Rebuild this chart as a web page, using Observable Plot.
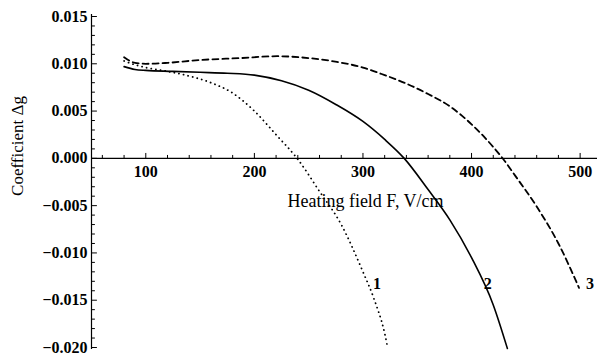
<!DOCTYPE html>
<html><head><meta charset="utf-8">
<script src="https://cdn.jsdelivr.net/npm/d3@7"></script>
<script src="https://cdn.jsdelivr.net/npm/@observablehq/plot@0.6"></script>
<style>body{margin:0;background:#fff}</style>
</head><body><div id="chart"></div>
<script>
// Curve 1 (dotted)
const F1 = [80, 90, 100, 120, 140, 160, 180, 200, 220, 240, 260, 280, 300, 310, 320, 323];
const G1 = [0.0103, 0.0099, 0.0096, 0.0092, 0.0087, 0.0080, 0.0069, 0.0050, 0.0025, -0.0001, -0.0035, -0.0070, -0.0120, -0.0148, -0.0185, -0.0201];
// Curve 2 (solid)
const F2 = [80, 90, 100, 125, 150, 175, 200, 225, 250, 275, 300, 320, 338, 360, 380, 400, 420, 433];
const G2 = [0.0097, 0.0094, 0.0093, 0.0092, 0.0091, 0.0090, 0.0088, 0.0082, 0.0072, 0.0057, 0.0039, 0.0020, 0.0000, -0.0033, -0.0065, -0.0105, -0.0155, -0.0201];
// Curve 3 (dashed)
const F3 = [80, 90, 100, 120, 150, 187, 221, 250, 276, 300, 320, 340, 360, 380, 400, 420, 430, 440, 460, 480, 499];
const G3 = [0.0107, 0.0101, 0.0100, 0.0101, 0.0104, 0.0106, 0.0108, 0.0106, 0.0102, 0.0096, 0.0088, 0.0079, 0.0068, 0.0055, 0.0036, 0.0012, -0.0002, -0.0018, -0.0051, -0.0090, -0.0137];

const curveNames = ["1", "2", "3"];
const labelF = [313, 415, 509];
const labelG = [-0.0133, -0.0133, -0.0133];

const xMajor = [100, 200, 300, 400, 500];
const xMinor = [60, 80, 120, 140, 160, 180, 220, 240, 260, 280, 320, 340, 360, 380, 420, 440, 460, 480];
const yMajor = [-0.020, -0.015, -0.010, -0.005, 0.000, 0.005, 0.010, 0.015];
const yMinor = [-0.019, -0.018, -0.017, -0.016, -0.014, -0.013, -0.012, -0.011, -0.009, -0.008, -0.007, -0.006,
  -0.004, -0.003, -0.002, -0.001, 0.001, 0.002, 0.003, 0.004, 0.006, 0.007, 0.008, 0.009, 0.011, 0.012, 0.013, 0.014];

const xTitle = "Heating field F, V/cm";
const yTitle = "Coefficient \u0394g";

const toRows = (F, G) => F.map((f, i) => ({F: f, g: G[i]}));
const c1 = toRows(F1, G1), c2 = toRows(F2, G2), c3 = toRows(F3, G3);
const labels = curveNames.map((t, i) => ({t, F: labelF[i], g: labelG[i]}));

const serif = "'Liberation Serif', 'Times New Roman', serif";
const fmt = d3.format(".3f");
const tickShape = {draw(ctx, l) { ctx.moveTo(0, 0); ctx.lineTo(0, -l); }};

const chart = Plot.plot({
  width: 599, height: 361,
  marginLeft: 91, marginRight: 2, marginTop: 16, marginBottom: 14,
  style: {fontFamily: serif, background: "#fff", color: "#000"},
  x: {domain: [50, 516], axis: null},
  y: {domain: [-0.020, 0.015], axis: null},
  marks: [
    Plot.ruleY([0], {stroke: "#000", strokeWidth: 1.2}),
    Plot.ruleX([50], {stroke: "#000", strokeWidth: 1.2, y1: -0.0202, y2: 0.0152}),
    Plot.vector(xMajor, {x: d => d, y: 0, length: 5, rotate: 0, anchor: "start", shape: tickShape, stroke: "#000", strokeWidth: 1}),
    Plot.vector(xMinor, {x: d => d, y: 0, length: 3, rotate: 0, anchor: "start", shape: tickShape, stroke: "#000", strokeWidth: 1}),
    Plot.vector(yMajor, {y: d => d, frameAnchor: "left", length: 5, rotate: 90, anchor: "start", shape: tickShape, stroke: "#000", strokeWidth: 1}),
    Plot.vector(yMinor, {y: d => d, frameAnchor: "left", length: 3, rotate: 90, anchor: "start", shape: tickShape, stroke: "#000", strokeWidth: 1}),
    Plot.text(yMajor, {y: d => d, frameAnchor: "left", text: d => fmt(d), textAnchor: "end", dx: -4, fontWeight: "bold", fontSize: 16, fill: "#000"}),
    Plot.text(xMajor, {x: d => d, y: 0, text: d => String(d), dy: 14, fontWeight: "bold", fontSize: 16, fill: "#000"}),
    Plot.line(c1, {x: "F", y: "g", curve: "monotone-x", stroke: "#000", strokeWidth: 1.8, strokeDasharray: "0.1,4.6", strokeLinecap: "round"}),
    Plot.line(c2, {x: "F", y: "g", curve: "monotone-x", stroke: "#000", strokeWidth: 1.6}),
    Plot.line(c3, {x: "F", y: "g", curve: "monotone-x", stroke: "#000", strokeWidth: 1.8, strokeDasharray: "6,4"}),
    Plot.text(labels, {x: "F", y: "g", text: "t", fontWeight: "bold", fontSize: 16, fill: "#000"}),
    Plot.text([xTitle], {frameAnchor: "top", textAnchor: "middle", lineAnchor: "middle", dx: 21, dy: 185, text: d => d, fontSize: 18, fill: "#000"}),
    Plot.text([yTitle], {frameAnchor: "left", textAnchor: "middle", lineAnchor: "middle", dx: -74, dy: -36, rotate: -90, text: d => d, fontSize: 17, fill: "#000"})
  ]
});
document.getElementById("chart").appendChild(chart);
</script>
</body></html>
